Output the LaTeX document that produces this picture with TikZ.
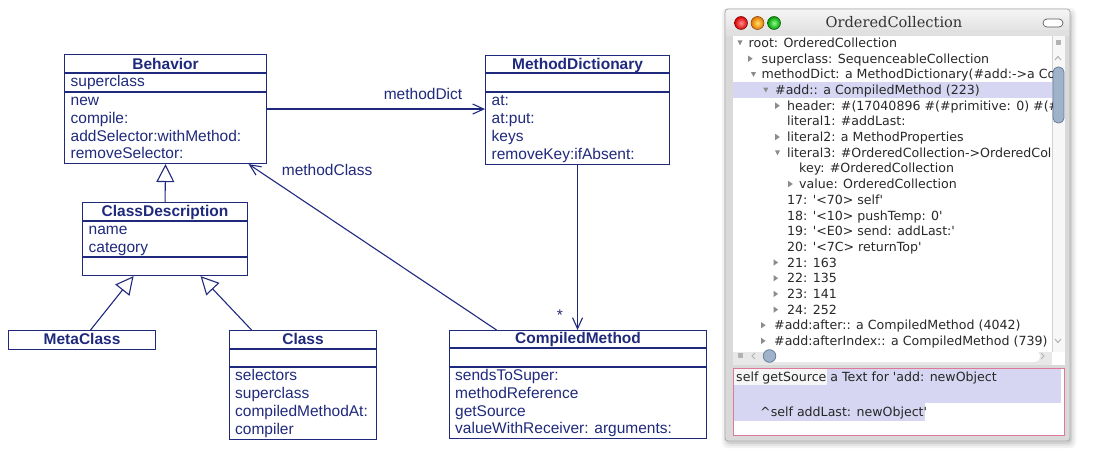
\documentclass[tikz,border=0pt]{standalone}
\usepackage{fontspec}
\setmainfont{Liberation Sans}
\newfontfamily\dvsans[Ligatures=TeXOff]{DejaVu Sans}
\newfontfamily\dvserif{DejaVu Serif}
\usetikzlibrary{arrows.meta,calc}
\definecolor{uml}{RGB}{32,42,125}
\definecolor{hl}{RGB}{214,214,242}
\definecolor{treetext}{RGB}{40,40,40}
\definecolor{trigray}{RGB}{140,140,140}
\definecolor{thumb}{RGB}{160,178,202}
\definecolor{thumbedge}{RGB}{105,125,158}
\definecolor{panered}{RGB}{222,120,150}
\newcommand\tdown[2]{\fill[trigray] (#1,#2-2.3) -- (#1+5,#2-2.3) -- (#1+2.5,#2+2.5) -- cycle;}
\newcommand\tright[2]{\fill[trigray] (#1,#2-3.2) -- (#1,#2+3.2) -- (#1+4.6,#2) -- cycle;}
\begin{document}
\begin{tikzpicture}[x=1pt,y=-1pt,
  umlbox/.style={draw=uml,line width=1.1pt,inner sep=0,anchor=north west},
  umlline/.style={draw=uml,line width=1.1pt},
  umltitle/.style={font=\fontsize{15.5}{17}\selectfont\bfseries,text=uml,anchor=base,inner sep=0},
  member/.style={font=\fontsize{15.5}{17}\selectfont,text=uml,anchor=base west,inner sep=0},
  gen/.style={umlline,-{Triangle[open,length=18,width=18]}},
  assoc/.style={umlline,-{Straight Barb[length=11,width=10]}},
  tree/.style={font=\fontsize{12.6}{14}\dvsans,text=treetext,anchor=base west,inner sep=0},
  pane/.style={font=\fontsize{12.6}{14}\dvsans,text=black!85,anchor=base west,inner sep=0},
]
\useasboundingbox (0,0) rectangle (1106,454);
\fill[white] (0,0) rectangle (1106,454);

% ---------------- UML diagram ----------------
% Behavior
\node[umlbox,minimum width=202,minimum height=109] (behavior) at (64,54) {};
\draw[umlline] ($(behavior.north west)+(0,19)$) -- ($(behavior.north east)+(0,19)$);
\draw[umlline] ($(behavior.north west)+(0,38)$) -- ($(behavior.north east)+(0,38)$);
\node[umltitle] (behavior-t) at ($(behavior.north)+(0,15.3)$) {Behavior};
\node[member] (behavior-a1) at ($(behavior.north west)+(6.5,33)$) {superclass};
\node[member] (behavior-m1) at ($(behavior.north west)+(6.5,51.5)$) {new};
\node[member] (behavior-m2) at ($(behavior.north west)+(6.5,69.3)$) {compile:};
\node[member] (behavior-m3) at ($(behavior.north west)+(6.5,87.1)$) {addSelector:withMethod:};
\node[member] (behavior-m4) at ($(behavior.north west)+(6.5,104.9)$) {removeSelector:};

% MethodDictionary
\node[umlbox,minimum width=184,minimum height=109] (md) at (485,55) {};
\draw[umlline] ($(md.north west)+(0,18)$) -- ($(md.north east)+(0,18)$);
\draw[umlline] ($(md.north west)+(0,37)$) -- ($(md.north east)+(0,37)$);
\node[umltitle] (md-t) at ($(md.north)+(0,15)$) {MethodDictionary};
\node[member] (md-m1) at ($(md.north west)+(6.5,50.7)$) {at:};
\node[member] (md-m2) at ($(md.north west)+(6.5,68.5)$) {at:put:};
\node[member] (md-m3) at ($(md.north west)+(6.5,86.3)$) {keys};
\node[member] (md-m4) at ($(md.north west)+(6.5,104.1)$) {removeKey:ifAbsent:};

% ClassDescription
\node[umlbox,minimum width=165,minimum height=73] (cd) at (82,202) {};
\draw[umlline] ($(cd.north west)+(0,19)$) -- ($(cd.north east)+(0,19)$);
\draw[umlline] ($(cd.north west)+(0,55)$) -- ($(cd.north east)+(0,55)$);
\node[umltitle] (cd-t) at ($(cd.north)+(0,14.8)$) {ClassDescription};
\node[member] (cd-a1) at ($(cd.north west)+(6.5,33)$) {name};
\node[member] (cd-a2) at ($(cd.north west)+(6.5,50.8)$) {category};

% MetaClass
\node[umlbox,minimum width=147,minimum height=19] (meta) at (8,330) {};
\node[umltitle] (meta-t) at ($(meta.north)+(0,14.2)$) {MetaClass};

% Class
\node[umlbox,minimum width=147,minimum height=109] (class) at (229,330) {};
\draw[umlline] ($(class.north west)+(0,19)$) -- ($(class.north east)+(0,19)$);
\draw[umlline] ($(class.north west)+(0,37)$) -- ($(class.north east)+(0,37)$);
\node[umltitle] (class-t) at ($(class.north)+(0,14.2)$) {Class};
\node[member] (class-m1) at ($(class.north west)+(6,51)$) {selectors};
\node[member] (class-m2) at ($(class.north west)+(6,68.8)$) {superclass};
\node[member] (class-m3) at ($(class.north west)+(6,86.6)$) {compiledMethodAt:};
\node[member] (class-m4) at ($(class.north west)+(6,104.4)$) {compiler};

% CompiledMethod
\node[umlbox,minimum width=257,minimum height=108] (cm) at (449,330) {};
\draw[umlline] ($(cm.north west)+(0,18)$) -- ($(cm.north east)+(0,18)$);
\draw[umlline] ($(cm.north west)+(0,37)$) -- ($(cm.north east)+(0,37)$);
\node[umltitle] (cm-t) at ($(cm.north)+(0,13.5)$) {CompiledMethod};
\node[member] (cm-m1) at ($(cm.north west)+(6,50.5)$) {sendsToSuper:};
\node[member] (cm-m2) at ($(cm.north west)+(6,68.3)$) {methodReference};
\node[member] (cm-m3) at ($(cm.north west)+(6,86.1)$) {getSource};
\node[member] (cm-m4) at ($(cm.north west)+(6,103.9)$) {valueWithReceiver: arguments:};

% connectors
\draw[gen] (cd.north) -- (behavior.south);
\draw[gen] ($(meta.north)+(8.5,0)$) -- ($(cd.south)+(-31.5,0)$);
\draw[gen] ($(class.north)+(-51.5,0)$) -- ($(cd.south)+(35.5,0)$);
\draw[assoc] (behavior.east) -- (behavior.east -| md.west);
\node[member,anchor=base] (lbl-md) at (423,99.3) {methodDict};
\draw[assoc] (md.south) -- (md.south |- cm.north);
\node[member,anchor=base] (lbl-star) at (560,320.5) {*};
\draw[assoc] ($(cm.north)+(-81.5,0)$) -- ($(behavior.south)+(83,0)$);
\node[member] (lbl-mc) at (281.7,175.5) {methodClass};

% ---------------- Inspector window ----------------
% shadow
\fill[black!5, rounded corners=6] (722,8) rectangle (1076,448);
\fill[black!10, rounded corners=5] (724,10) rectangle (1074,446);
\fill[black!18, rounded corners=4] (726,12) rectangle (1072,444);
% frame
\fill[gray!30, rounded corners=3] (725,9) rectangle (1070,441);
\shade[top color=gray!8, bottom color=gray!26, rounded corners=3] (725,9) rectangle (1070,36);
\fill[gray!24] (725,30) rectangle (1070,36);
\draw[gray!65, line width=0.8pt, rounded corners=3] (725,9) rectangle (1070,441);
% traffic lights
\shade[inner color=red!45!white, outer color=red!85!black, draw=red!45!black, line width=0.5pt] (741,23) circle (6.5);
\shade[inner color=orange!35!yellow!60!white, outer color=orange!90!black, draw=orange!50!black, line width=0.5pt] (757.5,23) circle (6.5);
\shade[inner color=green!45!white, outer color=green!60!black, draw=green!35!black, line width=0.5pt] (774,23) circle (6.5);
\node[font=\fontsize{14.6}{16}\dvserif, text=black!80, inner sep=0] (wtitle) at (894,22.5) {OrderedCollection};
\draw[gray!70!black, fill=white, line width=0.7pt, rounded corners=4] (1043,19) rectangle (1063,27);

% tree area
\fill[white] (733,36) rectangle (1052,352);
\fill[hl] (733,82.5) rectangle (1052,98.5);
% vertical scrollbar
\fill[gray!6] (1052,36) rectangle (1065,352);
\draw[gray!35, line width=0.5pt] (1052,36) -- (1052,352);
\fill[gray!60] (1055.5,40.5) rectangle (1060.5,45.5);
\draw[gray!60, line width=1pt] (1055,60) -- (1058,56.5) -- (1061,60);
\draw[thumbedge, fill=thumb, line width=0.8pt, rounded corners=5] (1053,67) rectangle (1064,123);
\draw[gray!60, line width=1pt] (1055,339) -- (1058,342.5) -- (1061,339);
% horizontal scrollbar
\fill[gray!18] (733,352) rectangle (1065,365);
\fill[white] (1052,352) rectangle (1065,365);
\fill[white, rounded corners=5] (766,351) rectangle (1040,362);
\fill[gray!60] (737.5,353.5) rectangle (742.5,358.5);
\draw[gray!60, line width=1pt] (755,353) -- (752,356) -- (755,359);
\draw[gray!60, line width=1pt] (1041,353) -- (1044,356) -- (1041,359);
\draw[thumbedge, fill=thumb, line width=0.8pt] (769.5,356) circle (6.3);

% tree rows
\begin{scope}
\clip (733,36) rectangle (1052,352);
\tdown{737.5}{42.8}
\tright{748}{58.7}
\tdown{751}{74.4}
\tdown{763.3}{90}
\tright{775.2}{105.7}
\tright{775.2}{137}
\tdown{775}{152.8}
\tright{788.2}{184}
\tright{773.5}{262.5}
\tright{773.5}{278.2}
\tright{773.5}{293.9}
\tright{773.5}{309.6}
\tright{761}{325.2}
\tright{761}{340.9}
\node[tree] (t1) at (748.5,47.6) {root: OrderedCollection};
\node[tree] (t2) at (761.5,63.3) {superclass: SequenceableCollection};
\node[tree] (t3) at (761.5,79.0) {methodDict: a MethodDictionary(\#add:->a Co};
\node[tree] (t4) at (775,94.6) {\#add:: a CompiledMethod (223)};
\node[tree] (t5) at (787,110.3) {header: \#(17040896 \#(\#primitive: 0) \#(\#};
\node[tree] (t6) at (787,126.0) {literal1: \#addLast:};
\node[tree] (t7) at (787,141.7) {literal2: a MethodProperties};
\node[tree] (t8) at (787,157.4) {literal3: \#OrderedCollection->OrderedCol};
\node[tree] (t9) at (799,173.0) {key: \#OrderedCollection};
\node[tree] (t10) at (799,188.7) {value: OrderedCollection};
\node[tree] (t11) at (787,204.4) {17: '<70> self'};
\node[tree] (t12) at (787,220.1) {18: '<10> pushTemp: 0'};
\node[tree] (t13) at (787,235.8) {19: '<E0> send: addLast:'};
\node[tree] (t14) at (787,251.4) {20: '<7C> returnTop'};
\node[tree] (t15) at (787,267.1) {21: 163};
\node[tree] (t16) at (787,282.8) {22: 135};
\node[tree] (t17) at (787,298.5) {23: 141};
\node[tree] (t18) at (787,314.2) {24: 252};
\node[tree] (t19) at (774,329.8) {\#add:after:: a CompiledMethod (4042)};
\node[tree] (t20) at (774,345.5) {\#add:afterIndex:: a CompiledMethod (739)};
\end{scope}

% lower text pane
\fill[white] (733,368) rectangle (1064,435);
\fill[gray!7] (734,369) rectangle (827,385);
\fill[hl] (827,369) rectangle (1061,385);
\fill[hl] (734,385) rectangle (1061,403);
\fill[hl] (734,403) rectangle (925,421);
\draw[panered, line width=0.8pt] (733,368) rectangle (1064,435);
\node[pane] (p1) at (736,381.5) {self getSource a Text for 'add: newObject};
\node[pane] (p2) at (760,416.5) {\textasciicircum self addLast: newObject'};
\end{tikzpicture}
\end{document}
